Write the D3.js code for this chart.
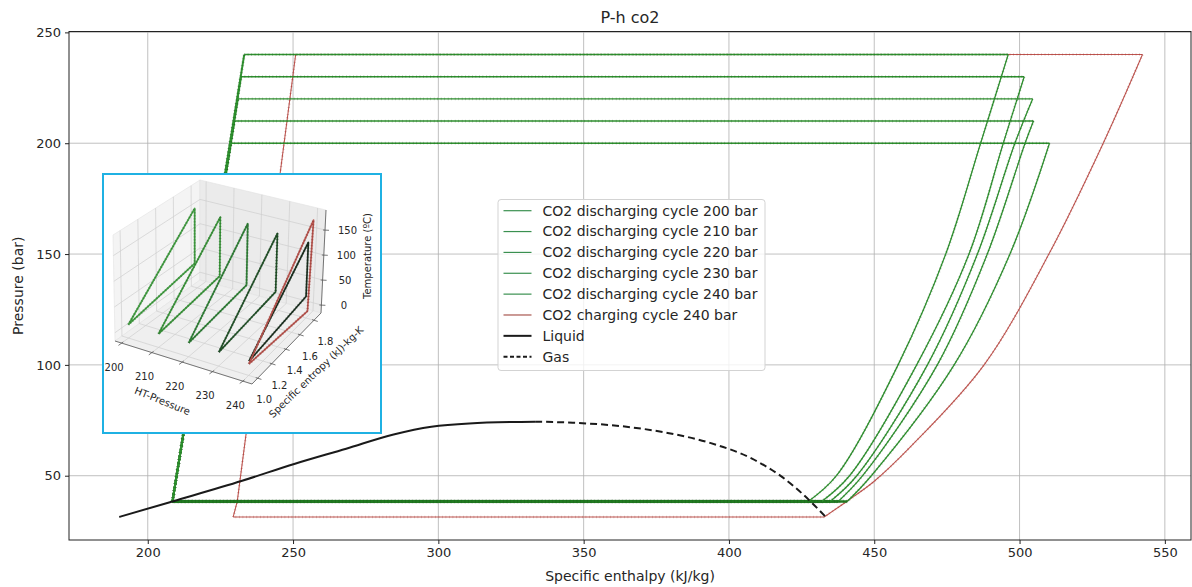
<!DOCTYPE html>
<html>
<head>
<meta charset="utf-8">
<script src="https://cdn.jsdelivr.net/npm/d3@7"></script>
<style>
  body { margin: 0; background: #fff; }
  svg { display: block; font-family: "DejaVu Sans", sans-serif; }
</style>
</head>
<body>
<svg id="chart" width="1192" height="587"></svg>
<script>
// ---------- P-h data (enthalpy kJ/kg, pressure bar) ----------
const enthalpyTicks = [200, 250, 300, 350, 400, 450, 500, 550];
const pressureTicks = [50, 100, 150, 200, 250];
const enthalpyDomain = [172.9, 559.0];
const pressureDomain = [21.0, 250.4];

// saturated liquid / vapour lines of CO2
const liquidH = [190.2, 208.5, 232.5, 250.4, 268.3, 284.6, 297.6, 310.6, 333.3];
const liquidP = [31.4, 38.4, 47.7, 55.3, 62.2, 68.6, 72.1, 73.6, 74.4];
const gasH = [333.3, 346.3, 362.6, 378.9, 393.5, 408.1, 417.9, 427.6, 433.3];
const gasP = [74.4, 73.9, 72.4, 69.3, 64.8, 57.6, 49.8, 39.0, 31.4];

// discharging cycles
const dischargePressures = [200, 210, 220, 230, 240];
const dischargeLowP = 38.4;
const pumpInletH = 208.5;
const pumpOutletH = [228.6, 229.8, 231.0, 232.1, 233.2];
const expansionH = [
  [510.3, 496.7, 477.5, 449.0, 440.7],
  [504.8, 501.9, 488.9, 471.7, 446.0, 437.6],
  [504.5, 498.4, 485.5, 468.3, 444.0, 434.8],
  [501.6, 494.4, 482.6, 464.6, 441.5, 431.9],
  [496.1, 486.6, 474.6, 458.2, 437.0, 427.3]
];
const expansionP = [
  [200, 150, 100, 50, 38.4],
  [210, 200, 150, 100, 50, 38.4],
  [220, 200, 150, 100, 50, 38.4],
  [230, 200, 150, 100, 50, 38.4],
  [240, 200, 150, 100, 50, 38.4]
];

// charging cycle
const chargePressure = 240;
const chargeLowP = 31.4;
const chargeLowH = [432.8, 229.4];
const chargeThrottleH = [229.4, 230.8, 250.9];
const chargeThrottleP = [31.4, 38.4, 240];
const chargeTopH = [250.9, 542.3];
const chargeCompH = [542.3, 528.8, 510.1, 487.8, 462.6, 450.0, 440.5, 432.8];
const chargeCompP = [240, 200, 150, 100, 63.2, 47.5, 38.4, 31.4];

// ---------- 3D T-s view (HT-pressure, entropy, temperature) ----------
const insetPressureTicks = [200, 210, 220, 230, 240];
const insetEntropyTicks = [1.0, 1.2, 1.4, 1.6, 1.8];
const insetTempTicks = [0, 50, 100, 150];
const insetPressureDomain = [197.8, 243];
const insetEntropyDomain = [0.92, 1.9];
const insetTempDomain = [-16, 190];
const loopLowS = 1.0, loopLowT = 10;
const loopPeakS = [1.77, 1.74, 1.73, 1.75, 1.79];
const loopPeakT = [150, 150, 152, 144, 135];
const loopDropT = [38, 31, 29, 28, 28];
const chargeLoopS = [1.0, 1.82, 1.85, 1.0];
const chargeLoopT = [5, -5, 172, 5];

// ---------- drawing ----------
const svg = d3.select("#chart");
const W = 1192, H = 587;
const plot = { left: 69, right: 1191, top: 31.5, bottom: 540 };
const textColor = "#262626";
const green = "#2f922f", greenMark = "#1a4f1a";
const red = "#c0554f", redMark = "#8a3030";

svg.append("rect").attr("width", W).attr("height", H).attr("fill", "#fff");

const x = d3.scaleLinear().domain(enthalpyDomain).range([plot.left, plot.right]);
const y = d3.scaleLinear().domain(pressureDomain).range([plot.bottom, plot.top]);

// grid
const grid = svg.append("g").attr("stroke", "#b0b0b0").attr("stroke-width", 0.8);
grid.selectAll(".gx").data(enthalpyTicks).join("line")
  .attr("x1", d => x(d)).attr("x2", d => x(d))
  .attr("y1", plot.top).attr("y2", plot.bottom);
grid.selectAll(".gy").data(pressureTicks).join("line")
  .attr("x1", plot.left).attr("x2", plot.right)
  .attr("y1", d => y(d)).attr("y2", d => y(d));

const clipId = "plotClip";
svg.append("clipPath").attr("id", clipId).append("rect")
  .attr("x", plot.left).attr("y", plot.top)
  .attr("width", plot.right - plot.left).attr("height", plot.bottom - plot.top);

const lines = svg.append("g").attr("clip-path", `url(#${clipId})`);
const zip = (a, b) => a.map((v, i) => [v, b[i]]);
const straight = d3.line().x(d => x(d[0])).y(d => y(d[1]));
const smooth = d3.line().x(d => x(d[0])).y(d => y(d[1])).curve(d3.curveCatmullRom.alpha(0.5));

function stroke(g, d, color, width, mark) {
  g.append("path").attr("d", d).attr("fill", "none")
    .attr("stroke", color).attr("stroke-width", width)
    .attr("stroke-linejoin", "round");
  if (mark) {
    g.append("path").attr("d", d).attr("fill", "none")
      .attr("stroke", mark).attr("stroke-width", width + 1.4)
      .attr("stroke-dasharray", "0.7 2.8").attr("opacity", 0.35);
  }
}

// charging cycle
const chg = lines.append("g");
stroke(chg, straight(chargeLowH.map(h => [h, chargeLowP])), red, 1.1, redMark);
stroke(chg, straight(zip(chargeThrottleH, chargeThrottleP)), red, 1.1, redMark);
stroke(chg, straight(chargeTopH.map(h => [h, chargePressure])), red, 1.1, redMark);
stroke(chg, smooth(zip(chargeCompH, chargeCompP)), red, 1.1, redMark);

// discharging cycles
dischargePressures.forEach((p, i) => {
  const g = lines.append("g");
  const exp = zip(expansionH[i], expansionP[i]);
  stroke(g, straight([[pumpInletH, dischargeLowP], [pumpOutletH[i], p]]), green, 2, greenMark);
  stroke(g, straight([[pumpOutletH[i], p], [expansionH[i][0], p]]), green, 1.4, greenMark);
  stroke(g, smooth(exp), green, 1.3, greenMark);
  stroke(g, straight([exp[exp.length - 1], [pumpInletH, dischargeLowP]]), "#217a21", 2.4, greenMark);
});

// saturation dome
const dome = d3.line().x(d => x(d[0])).y(d => y(d[1])).curve(d3.curveMonotoneX);
lines.append("path").attr("d", dome(zip(liquidH, liquidP)))
  .attr("fill", "none").attr("stroke", "#1a1a1a").attr("stroke-width", 2);
lines.append("path").attr("d", dome(zip(gasH, gasP)))
  .attr("fill", "none").attr("stroke", "#1a1a1a").attr("stroke-width", 2)
  .attr("stroke-dasharray", "7 4");

// spines
svg.append("rect").attr("x", plot.left).attr("y", plot.top)
  .attr("width", plot.right - plot.left).attr("height", plot.bottom - plot.top)
  .attr("fill", "none").attr("stroke", "#222").attr("stroke-width", 1);

// axes
const xAxis = svg.append("g").attr("transform", `translate(0,${plot.bottom})`)
  .call(d3.axisBottom(x).tickValues(enthalpyTicks).tickSize(4).tickPadding(4).tickFormat(d3.format("d")));
const yAxis = svg.append("g").attr("transform", `translate(${plot.left},0)`)
  .call(d3.axisLeft(y).tickValues(pressureTicks).tickSize(4).tickPadding(4).tickFormat(d3.format("d")));
[xAxis, yAxis].forEach(a => {
  a.select(".domain").remove();
  a.selectAll(".tick line").attr("stroke", "#222");
  a.selectAll("text").attr("fill", textColor).style("font-size", "13px")
    .style("font-family", "DejaVu Sans, sans-serif");
});

// titles
svg.append("text").attr("x", (plot.left + plot.right) / 2).attr("y", 22.5)
  .attr("text-anchor", "middle").attr("fill", textColor).style("font-size", "16px")
  .text("P-h co2");
svg.append("text").attr("x", (plot.left + plot.right) / 2).attr("y", 581)
  .attr("text-anchor", "middle").attr("fill", textColor).style("font-size", "14px")
  .text("Specific enthalpy (kJ/kg)");
svg.append("text").attr("transform", `translate(23,${(plot.top + plot.bottom) / 2}) rotate(-90)`)
  .attr("text-anchor", "middle").attr("fill", textColor).style("font-size", "14px")
  .text("Pressure (bar)");

// ---------- inset: 3D T-s loops ----------
const ins = { x0: 103, y0: 174, x1: 381, y1: 433 };
const inset = svg.append("g");
inset.append("rect").attr("x", ins.x0).attr("y", ins.y0)
  .attr("width", ins.x1 - ins.x0).attr("height", ins.y1 - ins.y0).attr("fill", "#fff");

// screen positions of the 3D box corners (pressure, entropy, temperature at min/max)
const C = {
  c000: [115, 341], c100: [252, 384], c110: [321, 313], c010: [200, 280],
  c001: [113, 235], c101: [255, 270], c111: [326, 210], c011: [200, 180]
};
const u = d3.scaleLinear().domain(insetPressureDomain).range([0, 1]);
const v = d3.scaleLinear().domain(insetEntropyDomain).range([0, 1]);
const w = d3.scaleLinear().domain(insetTempDomain).range([0, 1]);
const lerp = (P, Q, k) => [P[0] + (Q[0] - P[0]) * k, P[1] + (Q[1] - P[1]) * k];
function proj(p, s, t) {
  const a = u(p), b = v(s), c = w(t);
  const bot = lerp(lerp(C.c000, C.c100, a), lerp(C.c010, C.c110, a), b);
  const top = lerp(lerp(C.c001, C.c101, a), lerp(C.c011, C.c111, a), b);
  return lerp(bot, top, c);
}
const [pMin, pMax] = insetPressureDomain, [sMin, sMax] = insetEntropyDomain, [tMin, tMax] = insetTempDomain;
const poly = d3.line();

// panes
const panes = [
  { pts: [[pMin, sMin, tMin], [pMin, sMax, tMin], [pMin, sMax, tMax], [pMin, sMin, tMax]], fill: "#f4f4f4" },
  { pts: [[pMin, sMax, tMin], [pMax, sMax, tMin], [pMax, sMax, tMax], [pMin, sMax, tMax]], fill: "#ebebeb" },
  { pts: [[pMin, sMin, tMin], [pMax, sMin, tMin], [pMax, sMax, tMin], [pMin, sMax, tMin]], fill: "#efefef" }
];
inset.selectAll(".pane").data(panes).join("path")
  .attr("d", d => poly(d.pts.map(q => proj(...q))) + "Z")
  .attr("fill", d => d.fill).attr("stroke", "#e2e2e2").attr("stroke-width", 0.6);

// pane grid lines
const gridSegs = [];
insetEntropyTicks.forEach(s => {
  gridSegs.push([[pMin, s, tMin], [pMin, s, tMax]]);
  gridSegs.push([[pMin, s, tMin], [pMax, s, tMin]]);
});
insetPressureTicks.forEach(p => {
  gridSegs.push([[p, sMax, tMin], [p, sMax, tMax]]);
  gridSegs.push([[p, sMin, tMin], [p, sMax, tMin]]);
});
insetTempTicks.forEach(t => {
  gridSegs.push([[pMin, sMin, t], [pMin, sMax, t]]);
  gridSegs.push([[pMin, sMax, t], [pMax, sMax, t]]);
});
inset.append("g").selectAll("path").data(gridSegs).join("path")
  .attr("d", d => poly(d.map(q => proj(...q))))
  .attr("stroke", "#cfcfcf").attr("stroke-width", 0.7).attr("fill", "none");

// axis lines and ticks
const axisCol = "#555";
const axisSegs = [
  [[pMin, sMin, tMin], [pMax, sMin, tMin]],
  [[pMax, sMin, tMin], [pMax, sMax, tMin]],
  [[pMax, sMax, tMin], [pMax, sMax, tMax]]
];
inset.append("g").selectAll("path").data(axisSegs).join("path")
  .attr("d", d => poly(d.map(q => proj(...q))))
  .attr("stroke", axisCol).attr("stroke-width", 0.8).attr("fill", "none");

const tickG = inset.append("g").attr("stroke", axisCol).attr("stroke-width", 0.8);
insetPressureTicks.forEach(p => {
  const a = proj(p, sMin, tMin);
  tickG.append("line").attr("x1", a[0] + 1.6).attr("y1", a[1] - 1.2).attr("x2", a[0] - 3.2).attr("y2", a[1] + 2.3);
});
insetEntropyTicks.forEach(s => {
  const a = proj(pMax, s, tMin);
  tickG.append("line").attr("x1", a[0] - 1.9).attr("y1", a[1] - 0.6).attr("x2", a[0] + 3.8).attr("y2", a[1] + 1.2);
});
insetTempTicks.forEach(t => {
  const a = proj(pMax, sMax, t);
  tickG.append("line").attr("x1", a[0] - 2).attr("y1", a[1]).attr("x2", a[0] + 4).attr("y2", a[1] + 0.3);
});

const insetFont = "10px";
const lbl = inset.append("g").attr("fill", textColor).style("font-size", insetFont)
  .attr("text-anchor", "middle");
insetPressureTicks.forEach(p => {
  const a = proj(p, sMin, tMin);
  lbl.append("text").attr("x", a[0] - 7.5).attr("y", a[1] + 24).attr("dy", "0.35em").text(p);
});
insetEntropyTicks.forEach(s => {
  const a = proj(pMax, s, tMin);
  lbl.append("text").attr("x", a[0] + 6 + 6 * v(s)).attr("y", a[1] + 21.6).attr("dy", "0.35em").text(d3.format(".1f")(s));
});
insetTempTicks.forEach(t => {
  const a = proj(pMax, sMax, t);
  lbl.append("text").attr("x", a[0] + 22.5).attr("y", a[1] + 0.5).attr("dy", "0.35em").text(t);
});
lbl.append("text").attr("transform", "translate(162.5,401) rotate(22)").attr("dy", "0.35em").text("HT-Pressure");
lbl.append("text").attr("transform", "translate(316,372) rotate(-44)").attr("dy", "0.35em").text("Specific entropy (kJ)-kg-K");
lbl.append("text").attr("transform", "translate(367,256) rotate(-90)").attr("dy", "0.35em").text("Temperature (ºC)");

// T-s loops
const loopColors = ["#45a045", "#3d973d", "#33843a", "#24542b", "#1b3020"];
const loopMarks = ["#1f5c1f", "#1d551d", "#173f1a", "#122a15", "#0c160e"];
function insetStroke(d, color, mark) {
  inset.append("path").attr("d", d).attr("fill", "none").attr("stroke", color)
    .attr("stroke-width", 1.7).attr("stroke-linejoin", "round");
  inset.append("path").attr("d", d).attr("fill", "none").attr("stroke", mark)
    .attr("stroke-width", 2.6).attr("stroke-dasharray", "0.8 2.2").attr("opacity", 0.45);
}
dischargePressures.forEach((p, i) => {
  const loop = [[loopLowS, loopLowT], [loopPeakS[i], loopPeakT[i]], [loopPeakS[i], loopDropT[i]], [loopLowS, loopLowT]];
  insetStroke(poly(loop.map(q => proj(p, q[0], q[1]))), loopColors[i], loopMarks[i]);
});
insetStroke(poly(zip(chargeLoopS, chargeLoopT).map(q => proj(chargePressure, q[0], q[1]))), "#b8554f", "#7a2e2a");

inset.append("rect").attr("x", ins.x0).attr("y", ins.y0)
  .attr("width", ins.x1 - ins.x0).attr("height", ins.y1 - ins.y0)
  .attr("fill", "none").attr("stroke", "#1fb1e3").attr("stroke-width", 2);

// ---------- legend ----------
const legendItems = dischargePressures.map(p => ({ label: `CO2 discharging cycle ${p} bar`, color: "#3a9050", width: 1.2, dash: null }))
  .concat([
    { label: `CO2 charging cycle ${chargePressure} bar`, color: "#a8574f", width: 1.2, dash: null },
    { label: "Liquid", color: "#1a1a1a", width: 2, dash: null },
    { label: "Gas", color: "#1a1a1a", width: 2, dash: "4 2.5" }
  ]);
const lg = svg.append("g");
lg.append("rect").attr("x", 498).attr("y", 199.5).attr("width", 267).attr("height", 171)
  .attr("rx", 3).attr("fill", "#fff").attr("fill-opacity", 0.8)
  .attr("stroke", "#d3d3d3").attr("stroke-width", 1);
const rowY = d3.scalePoint().domain(d3.range(legendItems.length)).range([210.7, 356.7]);
const rows = lg.selectAll(".row").data(legendItems).join("g")
  .attr("transform", (d, i) => `translate(0,${rowY(i)})`);
rows.append("line").attr("x1", 503.5).attr("x2", 531.5)
  .attr("stroke", d => d.color).attr("stroke-width", d => d.width)
  .attr("stroke-dasharray", d => d.dash);
rows.append("text").attr("x", 542.5).attr("dy", "0.35em")
  .attr("fill", textColor).style("font-size", "14px").text(d => d.label);
</script>
</body>
</html>
